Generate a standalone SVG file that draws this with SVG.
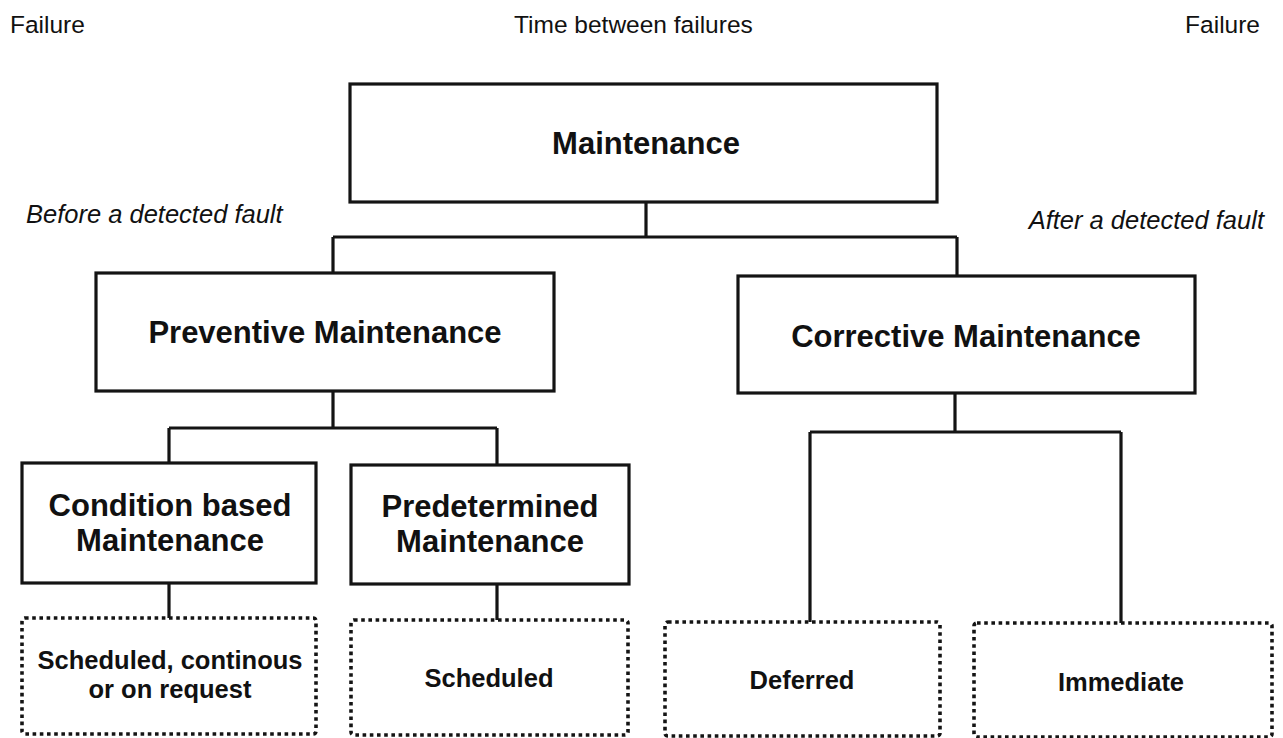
<svg xmlns="http://www.w3.org/2000/svg" width="1283" height="738" viewBox="0 0 1283 738">
  <style>
    .box { fill: #ffffff; stroke: #141414; stroke-width: 3.2; }
    .dot { fill: #ffffff; stroke: #141414; stroke-width: 3.6; stroke-dasharray: 3.6 3.6; }
    .wire { fill: none; stroke: #141414; stroke-width: 3.2; stroke-linejoin: miter; }
    .head { font-family: "Liberation Sans", Arial, sans-serif; font-weight: bold; font-size: 31px; fill: #111; text-anchor: middle; }
    .sub { font-family: "Liberation Sans", Arial, sans-serif; font-weight: bold; font-size: 25.5px; fill: #111; text-anchor: middle; }
    .note { font-family: "Liberation Sans", Arial, sans-serif; font-size: 24.5px; fill: #111; }
    .side { font-family: "Liberation Sans", Arial, sans-serif; font-style: italic; font-size: 25.5px; fill: #111; }
  </style>
  <rect width="1283" height="738" fill="#ffffff"/>

  <!-- timeline captions -->
  <g id="captions">
    <text class="note" x="10" y="33">Failure</text>
    <text class="note" x="514" y="33">Time between failures</text>
    <text class="note" x="1260" y="33" text-anchor="end">Failure</text>
    <text class="side" x="26" y="223">Before a detected fault</text>
    <text class="side" x="1264" y="229" text-anchor="end">After a detected fault</text>
  </g>

  <!-- tree connectors -->
  <g id="connectors">
    <path class="wire" d="M646 202 V237 M333 237 H957 M333 237 V273 M957 237 V276"/>
    <path class="wire" d="M333 391 V428 M169 428 H497 M169 428 V463 M497 428 V465"/>
    <path class="wire" d="M955 393 V432 M810 432 H1121 M810 432 V622 M1121 432 V623"/>
    <path class="wire" d="M169 583 V618 M497 584 V620"/>
  </g>

  <g id="maintenance">
    <rect class="box" x="350" y="84" width="587" height="118"/>
    <text class="head" x="646" y="154">Maintenance</text>
  </g>

  <g id="preventive">
    <rect class="box" x="96" y="273" width="458" height="118"/>
    <text class="head" x="325" y="343">Preventive Maintenance</text>
  </g>

  <g id="corrective">
    <rect class="box" x="738" y="276" width="457" height="117"/>
    <text class="head" x="966" y="347">Corrective Maintenance</text>
  </g>

  <g id="condition-based">
    <rect class="box" x="22" y="463" width="294" height="120"/>
    <text class="head" x="170" y="516">Condition based</text>
    <text class="head" x="170" y="551">Maintenance</text>
  </g>

  <g id="predetermined">
    <rect class="box" x="351" y="465" width="278" height="119"/>
    <text class="head" x="490" y="517">Predetermined</text>
    <text class="head" x="490" y="552">Maintenance</text>
  </g>

  <g id="scheduled-continuous">
    <rect class="dot" x="22" y="618" width="294" height="116" rx="3"/>
    <text class="sub" x="170" y="669">Scheduled, continous</text>
    <text class="sub" x="170" y="698">or on request</text>
  </g>

  <g id="scheduled">
    <rect class="dot" x="351" y="620" width="277" height="115" rx="3"/>
    <text class="sub" x="489" y="687">Scheduled</text>
  </g>

  <g id="deferred">
    <rect class="dot" x="665" y="622" width="275" height="114" rx="3"/>
    <text class="sub" x="802" y="689">Deferred</text>
  </g>

  <g id="immediate">
    <rect class="dot" x="974" y="623" width="298" height="114" rx="3"/>
    <text class="sub" x="1121" y="691">Immediate</text>
  </g>
</svg>
